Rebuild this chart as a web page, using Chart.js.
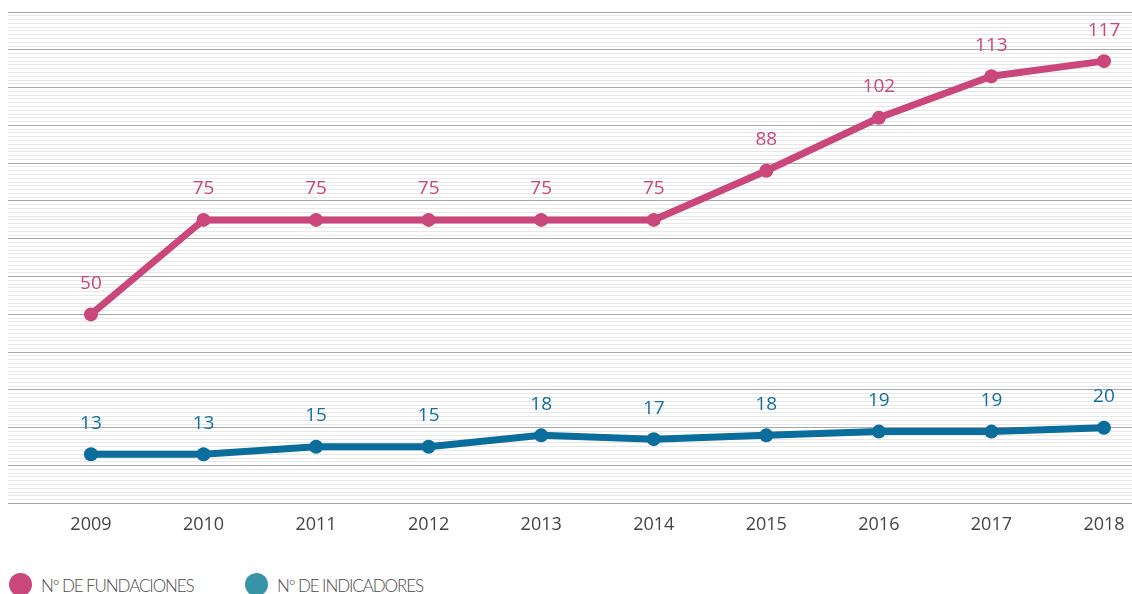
<!DOCTYPE html>
<html>
<head>
<meta charset="utf-8">
<script src="https://cdn.jsdelivr.net/npm/chart.js@4"></script>
<style>
  html, body { margin: 0; padding: 0; background: #fff; overflow: hidden; }
  #wrap { position: relative; width: 1132px; height: 594px; }
  #legend { position: absolute; left: 9px; top: 573px; display: flex; }
  .item { display: flex; align-items: flex-start; width: 236px; }
  .dot { width: 23px; height: 23px; border-radius: 50%; margin-right: 9px; flex: none; }
  .txt { font-family: Lato, sans-serif; font-weight: 300; font-size: 17px; line-height: 23px; margin-top: 1px; color: #4a4a4a; letter-spacing: -1.1px; white-space: nowrap; }
</style>
</head>
<body>
<div id="wrap">
  <canvas id="chart" width="1132" height="555"></canvas>
  <div id="legend"></div>
</div>
<script>
let years = [2009, 2010, 2011, 2012, 2013, 2014, 2015, 2016, 2017, 2018]
let fundaciones = [50, 75, 75, 75, 75, 75, 88, 102, 113, 117]
let indicadores = [13, 13, 15, 15, 18, 17, 18, 19, 19, 20]
let seriesNames = ['Nº DE FUNDACIONES', 'Nº DE INDICADORES']

const pink = '#c9477b'
const blue = '#0b6d9c'
const teal = '#3794a6'

let toPoints = (values) => values.map((v, i) => ({ x: years[i], y: v }))

// numbers above every point
const valueLabels = {
    id: 'valueLabels',
    afterDatasetsDraw(chart) {
        const ctx = chart.ctx
        ctx.save()
        ctx.font = '19px "Open Sans", sans-serif'
        ctx.textAlign = 'center'
        ctx.textBaseline = 'middle'
        chart.data.datasets.forEach((ds, d) => {
            const meta = chart.getDatasetMeta(d)
            ctx.fillStyle = ds.labelColor
            meta.data.forEach((pt, i) => {
                ctx.fillText(ds.data[i].y, pt.x, pt.y - 31)
            })
        })
        ctx.restore()
    }
}

// legend as html, built from the datasets
const htmlLegend = {
    id: 'htmlLegend',
    afterUpdate(chart) {
        const box = document.getElementById('legend')
        box.innerHTML = ''
        chart.data.datasets.forEach(ds => {
            const item = document.createElement('div')
            item.className = 'item'
            const dot = document.createElement('span')
            dot.className = 'dot'
            dot.style.background = ds.legendColor
            const txt = document.createElement('span')
            txt.className = 'txt'
            txt.textContent = ds.label
            item.appendChild(dot)
            item.appendChild(txt)
            box.appendChild(item)
        })
    }
}

const config = {
    type: 'line',
    data: {
        datasets: [{
            label: seriesNames[0],
            data: toPoints(fundaciones),
            borderColor: pink,
            backgroundColor: pink,
            pointBackgroundColor: pink,
            labelColor: pink,
            legendColor: pink,
            borderWidth: 7,
            pointRadius: 7,
            pointBorderWidth: 0,
            tension: 0
        }, {
            label: seriesNames[1],
            data: toPoints(indicadores),
            borderColor: blue,
            backgroundColor: blue,
            pointBackgroundColor: blue,
            labelColor: '#136fa0',
            legendColor: teal,
            borderWidth: 7,
            pointRadius: 7,
            pointBorderWidth: 0,
            tension: 0
        }]
    },
    options: {
        responsive: false,
        animation: false,
        layout: { autoPadding: false, padding: { left: 8, top: 12, right: 0, bottom: 8 } },
        plugins: {
            legend: { display: false },
            tooltip: { enabled: false }
        },
        scales: {
            x: {
                type: 'linear',
                min: 2008.263,
                max: 2018.249,
                afterBuildTicks: (axis) => { axis.ticks = years.map(v => ({ value: v })) },
                afterFit: (axis) => { axis.paddingLeft = 0; axis.paddingRight = 0 },
                grid: { display: false, drawTicks: false },
                border: { display: false },
                ticks: {
                    padding: 11,
                    color: '#444',
                    font: { family: '"Open Sans", sans-serif', size: 18 },
                    callback: (v) => String(v)
                }
            },
            y: {
                min: 0,
                max: 130,
                ticks: { display: false, stepSize: 1 },
                border: { display: false },
                grid: {
                    drawTicks: false,
                    lineWidth: 1,
                    color: (c) => (c.tick && c.tick.value % 10 === 0) ? '#a9a9a9' : '#e8e8e8'
                }
            }
        }
    },
    plugins: [valueLabels, htmlLegend]
}

new Chart(document.getElementById('chart'), config)
</script>
</body>
</html>
